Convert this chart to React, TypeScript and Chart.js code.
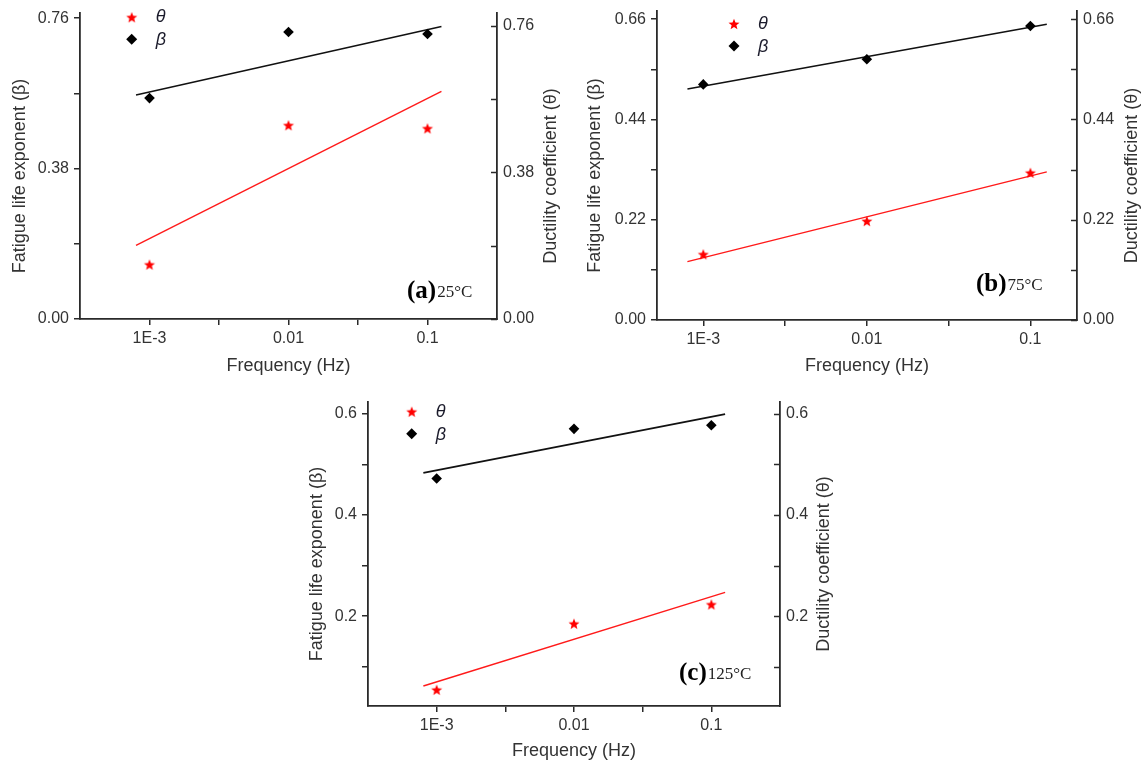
import React, { useEffect, useRef } from 'react';
import { Chart, registerables } from 'chart.js';

Chart.register(...registerables);

// ---------- shared data ----------
const frequencies = [0.001, 0.01, 0.1];
const fitFrequencies = [0.0008, 0.126];
const xTickValues = [0.001, 0.00316, 0.01, 0.0316, 0.1];
const xTickLabels = ['1E-3', '', '0.01', '', '0.1'];

// ---------- panel (a) 25°C ----------
const thetaA = [0.141, 0.502, 0.494];
const betaA = [0.558, 0.725, 0.72];
const thetaFitA = [0.191, 0.59];
const betaFitA = [0.566, 0.739];
const yTicksA = [0, 0.19, 0.38, 0.57, 0.76];
const yLabelsA = ['0.00', '', '0.38', '', '0.76'];

// ---------- panel (b) 75°C ----------
const thetaB = [0.144, 0.217, 0.323];
const betaB = [0.517, 0.572, 0.645];
const thetaFitB = [0.128, 0.325];
const betaFitB = [0.507, 0.649];
const yTicksB = [0, 0.11, 0.22, 0.33, 0.44, 0.55, 0.66];
const yLabelsB = ['0.00', '', '0.22', '', '0.44', '', '0.66'];

// ---------- panel (c) 125°C ----------
const thetaC = [0.0545, 0.185, 0.223];
const betaC = [0.472, 0.57, 0.577];
const thetaFitC = [0.062, 0.247];
const betaFitC = [0.483, 0.599];
const yTicksC = [0.1, 0.2, 0.3, 0.4, 0.5, 0.6];
const yLabelsC = ['', '0.2', '', '0.4', '', '0.6'];

const xTitle = 'Frequency (Hz)';
const yTitle = 'Fatigue life exponent (β)';
const y1Title = 'Ductility coefficient (θ)';

const AXIS = '#2a2a2a';
const TEXT = '#333333';
const SANS = "'Liberation Sans', Arial, sans-serif";
const SERIF = "'Liberation Serif', 'Times New Roman', serif";
const TITLE_SIZE = 18;
const TICK_SIZE = 16;
const Y_TITLE_SHIFT = 10;

type PanelCfg = {
  tag: string;
  temp: string;
  theta: number[];
  beta: number[];
  thetaFit: number[];
  betaFit: number[];
  yTicks: number[];
  yLabels: string[];
  left: number;
  top: number;
  width: number;
  height: number;
  leftW: number;
  rightW: number;
  padTop: number;
  xH: number;
  xMin: number;
  xMax: number;
  yMin: number;
  yMax: number;
  y1Min: number;
  y1Max: number;
  legX: number;
  legY: number;
  tagX: number;
  tagY: number;
};

const panels: PanelCfg[] = [
  {
    tag: '(a)', temp: '25°C', theta: thetaA, beta: betaA, thetaFit: thetaFitA, betaFit: betaFitA,
    yTicks: yTicksA, yLabels: yLabelsA,
    left: 9, top: 0, width: 553, height: 377, leftW: 71, rightW: 65, padTop: 13, xH: 58,
    xMin: Math.pow(10, -3.5), xMax: Math.pow(10, -0.5), yMin: 0, yMax: 0.773, y1Min: 0, y1Max: 0.793,
    legX: 122.7, legY: 17.3, tagX: 398, tagY: 298,
  },
  {
    tag: '(b)', temp: '75°C', theta: thetaB, beta: betaB, thetaFit: thetaFitB, betaFit: betaFitB,
    yTicks: yTicksB, yLabels: yLabelsB,
    left: 584, top: 0, width: 559, height: 377, leftW: 73, rightW: 66, padTop: 11, xH: 57,
    xMin: Math.pow(10, -3.283), xMax: Math.pow(10, -0.715), yMin: 0, yMax: 0.678, y1Min: 0, y1Max: 0.678,
    legX: 150, legY: 24, tagX: 392, tagY: 291,
  },
  {
    tag: '(c)', temp: '125°C', theta: thetaC, beta: betaC, thetaFit: thetaFitC, betaFit: betaFitC,
    yTicks: yTicksC, yLabels: yLabelsC,
    left: 306, top: 390, width: 529, height: 372, leftW: 62, rightW: 55, padTop: 12, xH: 56,
    xMin: Math.pow(10, -3.5), xMax: Math.pow(10, -0.5), yMin: 0.0225, yMax: 0.623, y1Min: 0.0225, y1Max: 0.623,
    legX: 105.7, legY: 21.7, tagX: 373, tagY: 290,
  },
];

function makeStar(): HTMLCanvasElement {
  const c = document.createElement('canvas');
  c.width = 14;
  c.height = 14;
  const g = c.getContext('2d')!;
  g.fillStyle = '#ff0000';
  g.beginPath();
  for (let i = 0; i < 10; i++) {
    const r = i % 2 === 0 ? 5.8 : 2.5;
    const a = -Math.PI / 2 + (i * Math.PI) / 5;
    const px = 7 + r * Math.cos(a);
    const py = 7.5 + r * Math.sin(a);
    if (i === 0) g.moveTo(px, py);
    else g.lineTo(px, py);
  }
  g.closePath();
  g.fill();
  return c;
}

function drawDiamond(ctx: CanvasRenderingContext2D, x: number, y: number, r: number) {
  ctx.beginPath();
  ctx.moveTo(x - r, y);
  ctx.lineTo(x, y - r);
  ctx.lineTo(x + r, y);
  ctx.lineTo(x, y + r);
  ctx.closePath();
  ctx.fill();
}

function Panel({ cfg }: { cfg: PanelCfg }) {
  const ref = useRef<HTMLCanvasElement>(null);
  useEffect(() => {
    const canvas = ref.current;
    if (!canvas) return;
    const star = makeStar();
    const tickLabel = (ticks: number[], labels: string[]) => (v: any) => {
      const i = ticks.findIndex((t) => Math.abs(t - Number(v)) < 1e-9);
      return i >= 0 ? labels[i] : '';
    };
    const overlay = {
      id: 'overlay' + cfg.tag,
      afterDraw(chart: any) {
        const ctx: CanvasRenderingContext2D = chart.ctx;
        const area = chart.chartArea;
        const y1 = chart.scales.y1;
        const midY = (area.top + area.bottom) / 2 + Y_TITLE_SHIFT;
        const half = (TITLE_SIZE * 1.2) / 2;
        ctx.save();
        // inward ticks on right axis
        ctx.strokeStyle = AXIS;
        ctx.lineWidth = 1.5;
        y1.ticks.forEach((t: any) => {
          const py = Math.round(y1.getPixelForValue(t.value)) + 0.5;
          ctx.beginPath();
          ctx.moveTo(area.right, py);
          ctx.lineTo(area.right - 6, py);
          ctx.stroke();
        });
        // y axis titles, reading bottom to top
        ctx.fillStyle = TEXT;
        ctx.font = `${TITLE_SIZE}px ${SANS}`;
        ctx.textAlign = 'center';
        ctx.textBaseline = 'middle';
        ctx.save();
        ctx.translate(half, midY);
        ctx.rotate(-Math.PI / 2);
        ctx.fillText(yTitle, 0, 0);
        ctx.restore();
        ctx.save();
        ctx.translate(chart.width - half, midY);
        ctx.rotate(-Math.PI / 2);
        ctx.fillText(y1Title, 0, 0);
        ctx.restore();
        // legend
        ctx.drawImage(star, cfg.legX - 7, cfg.legY - 7);
        ctx.fillStyle = '#000';
        drawDiamond(ctx, cfg.legX, cfg.legY + 22, 5.5);
        ctx.fillStyle = '#1c1c2c';
        ctx.font = `italic 18px ${SANS}`;
        ctx.textBaseline = 'middle';
        ctx.textAlign = 'left';
        ctx.fillText('θ', cfg.legX + 24, cfg.legY);
        ctx.fillText('β', cfg.legX + 24, cfg.legY + 23);
        // panel tag
        ctx.fillStyle = '#000';
        ctx.textBaseline = 'alphabetic';
        ctx.font = `bold 25px ${SERIF}`;
        ctx.fillText(cfg.tag, cfg.tagX, cfg.tagY);
        const w = ctx.measureText(cfg.tag).width;
        ctx.font = `17px ${SERIF}`;
        ctx.fillStyle = '#222';
        ctx.fillText(cfg.temp, cfg.tagX + w + 1, cfg.tagY - 1);
        ctx.restore();
      },
    };

    const pts = (ys: number[]) => frequencies.map((f, i) => ({ x: f, y: ys[i] }));
    const fit = (ys: number[]) => fitFrequencies.map((f, i) => ({ x: f, y: ys[i] }));

    const chart = new Chart(canvas, {
      type: 'scatter',
      data: {
        datasets: [
          {
            label: 'θ',
            data: pts(cfg.theta),
            yAxisID: 'y1',
            pointStyle: star as any,
            pointRadius: 7,
            showLine: false,
            backgroundColor: '#ff0000',
            borderColor: '#ff0000',
          },
          {
            label: 'β',
            data: pts(cfg.beta),
            yAxisID: 'y',
            pointStyle: 'rectRot',
            pointRadius: 5.3,
            pointBorderWidth: 0,
            showLine: false,
            backgroundColor: '#000',
            borderColor: '#000',
          },
          {
            label: 'θ fit',
            data: fit(cfg.thetaFit),
            yAxisID: 'y1',
            showLine: true,
            pointRadius: 0,
            borderColor: '#ff1a1a',
            borderWidth: 1.4,
            backgroundColor: '#ff1a1a',
          },
          {
            label: 'β fit',
            data: fit(cfg.betaFit),
            yAxisID: 'y',
            showLine: true,
            pointRadius: 0,
            borderColor: '#111',
            borderWidth: 1.6,
            backgroundColor: '#111',
          },
        ],
      },
      options: {
        responsive: false,
        animation: false,
        events: [],
        layout: { padding: { top: cfg.padTop, left: 0, right: 0, bottom: 0 } },
        plugins: { legend: { display: false }, tooltip: { enabled: false } },
        scales: {
          x: {
            type: 'logarithmic',
            position: 'bottom',
            min: cfg.xMin,
            max: cfg.xMax,
            bounds: 'data',
            afterBuildTicks: (s: any) => {
              s.ticks = xTickValues.map((v) => ({ value: v }));
            },
            afterFit: (s: any) => {
              s.height = cfg.xH;
              s.paddingLeft = 0;
              s.paddingRight = 0;
            },
            ticks: {
              autoSkip: false,
              maxRotation: 0,
              padding: 4,
              color: TEXT,
              font: { family: SANS, size: TICK_SIZE },
              callback: tickLabel(xTickValues, xTickLabels),
            },
            grid: { drawOnChartArea: false, drawTicks: true, tickLength: 6, color: AXIS, lineWidth: 1.5 },
            border: { display: true, color: AXIS, width: 1.8 },
            title: { display: true, text: xTitle, color: TEXT, padding: 0, font: { family: SANS, size: TITLE_SIZE } },
          },
          y: {
            type: 'linear',
            position: 'left',
            min: cfg.yMin,
            max: cfg.yMax,
            bounds: 'data',
            afterBuildTicks: (s: any) => {
              s.ticks = cfg.yTicks.map((v) => ({ value: v }));
            },
            afterFit: (s: any) => {
              s.width = cfg.leftW;
              s.paddingTop = 0;
              s.paddingBottom = 0;
            },
            ticks: {
              autoSkip: false,
              padding: 5,
              color: TEXT,
              font: { family: SANS, size: TICK_SIZE },
              callback: tickLabel(cfg.yTicks, cfg.yLabels),
            },
            grid: { drawOnChartArea: false, drawTicks: true, tickLength: 6, color: AXIS, lineWidth: 1.5 },
            border: { display: true, color: AXIS, width: 1.8 },
            title: { display: false },
          },
          y1: {
            type: 'linear',
            position: 'right',
            min: cfg.y1Min,
            max: cfg.y1Max,
            bounds: 'data',
            afterBuildTicks: (s: any) => {
              s.ticks = cfg.yTicks.map((v) => ({ value: v }));
            },
            afterFit: (s: any) => {
              s.width = cfg.rightW;
              s.paddingTop = 0;
              s.paddingBottom = 0;
            },
            ticks: {
              autoSkip: false,
              padding: 6,
              color: TEXT,
              font: { family: SANS, size: TICK_SIZE },
              callback: tickLabel(cfg.yTicks, cfg.yLabels),
            },
            grid: { drawOnChartArea: false, drawTicks: false, color: AXIS },
            border: { display: true, color: AXIS, width: 1.8 },
            title: { display: false },
          },
        },
      } as any,
      plugins: [overlay],
    });
    return () => chart.destroy();
  }, [cfg]);
  return (
    <canvas
      ref={ref}
      width={cfg.width}
      height={cfg.height}
      style={{ position: 'absolute', left: cfg.left, top: cfg.top, width: cfg.width, height: cfg.height }}
    />
  );
}

export default function App() {
  return (
    <div style={{ position: 'fixed', left: 0, top: 0, width: 1143, height: 764, background: '#fff', overflow: 'hidden' }}>
      {panels.map((p) => (
        <Panel key={p.tag} cfg={p} />
      ))}
    </div>
  );
}
